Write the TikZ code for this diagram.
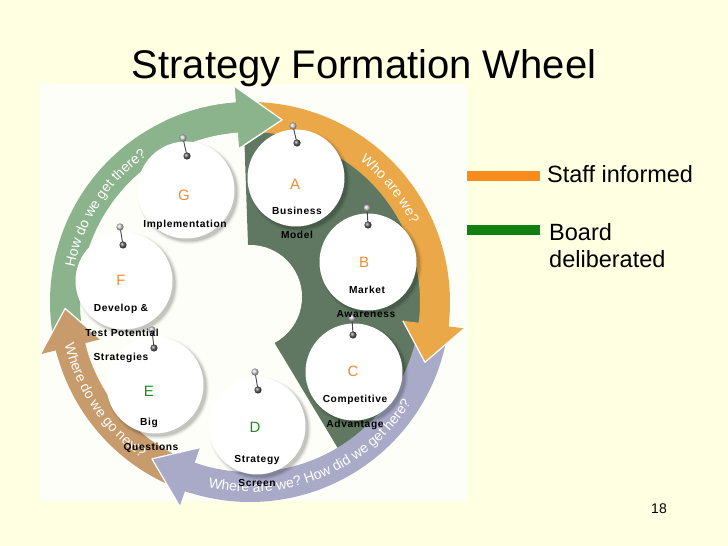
\documentclass[tikz,border=0pt]{standalone}
\usepackage{fontspec}
\setmainfont{Liberation Sans}
\newfontfamily\lblfont[LetterSpace=6]{Liberation Sans}
\usetikzlibrary{decorations.text,calc}
\definecolor{bgcream}{RGB}{255,255,226}
\definecolor{panelc}{RGB}{254,254,249}
\definecolor{ringgreen}{RGB}{140,180,140}
\definecolor{ringorange}{RGB}{235,168,72}
\definecolor{ringgrey}{RGB}{168,170,200}
\definecolor{ringtan}{RGB}{199,155,108}
\definecolor{sectorgreen}{RGB}{96,120,98}
\definecolor{letterorange}{RGB}{240,140,50}
\definecolor{lettergreen}{RGB}{30,140,30}
\definecolor{legendorange}{RGB}{250,140,30}
\definecolor{legendgreen}{RGB}{16,128,16}
\newcommand\RingArrow[4]{%
  \fill[#1] (#2:200pt) arc[start angle=#2, end angle=#3, radius=200pt] -- (#3:216pt) -- (#4:185pt) -- (#3:154pt) -- (#3:170pt) arc[start angle=#3, end angle=#2, radius=170pt] -- cycle;
  \draw[white, line width=1.2pt, line join=round] (#3:216pt) -- (#4:185pt) -- (#3:154pt);
}
\newcommand\ringfont{\fontsize{14}{16}\selectfont}
\tikzset{
  disc/.style={circle, fill=white, minimum size=97pt, inner sep=0pt},
  letO/.style={anchor=base, inner sep=0pt, text=letterorange, font=\fontsize{15}{18}\selectfont},
  letG/.style={anchor=base, inner sep=0pt, text=lettergreen, font=\fontsize{15}{18}\selectfont},
  lbl/.style={anchor=base, inner sep=0pt, font=\lblfont\bfseries\fontsize{10.2}{12}\selectfont},
  pinline/.style={draw=gray!55!black, line width=0.9pt},
  ringtext/.style={decorate, decoration={text along path, text align=center, text color=white, text={|\ringfont|#1}}},
  legtext/.style={anchor=base west, inner sep=0pt, font=\fontsize{23.5}{28}\selectfont}
}
\begin{document}
\begin{tikzpicture}[x=1pt,y=1pt]
\useasboundingbox (0,0) rectangle (728,546);
\fill[bgcream] (0,0) rectangle (728,546);
\fill[panelc] (40,45) rectangle (467,462);
% title
\node[anchor=base, inner sep=0pt, font=\fontsize{40}{48}\selectfont] (title) at (364,467) {Strategy Formation Wheel};
% wheel
\begin{scope}[shift={(250,244)}]
  \fill[sectorgreen] (0,0) -- (92:171pt) arc[start angle=92, end angle=-59, radius=171pt] -- cycle;
  \fill[panelc] (0,5) circle[radius=52];
  \RingArrow{ringgreen}{196}{94}{80}
  \RingArrow{ringtan}{253}{194}{182}
  \RingArrow{ringgrey}{-5}{-109}{-122}
  \RingArrow{ringorange}{94}{-7}{-19}
  \RingArrow{ringgreen}{115}{94}{80}
  \path[ringtext={How do we get there?}] (177:179pt) arc[start angle=177, end angle=117, radius=179pt];
  \path[ringtext={Who are we?}] (64:179pt) arc[start angle=64, end angle=14, radius=179pt];
  \path[ringtext={Where are we? How did we get here?}] (247.6:190pt) arc[start angle=247.6, end angle=337.6, radius=190pt];
  \path[ringtext={Where do we go next?}] (184:190pt) arc[start angle=184, end angle=244, radius=190pt];
\end{scope}
% circle centres
\coordinate (cG) at (186,356);
\coordinate (cA) at (296,368);
\coordinate (cB) at (368,284);
\coordinate (cC) at (354,174);
\coordinate (cD) at (257,120);
\coordinate (cE) at (155,161);
\coordinate (cF) at (124,265);
\foreach \c in {cG,cA,cB,cC,cD,cE,cF}{
  \foreach \d/\o in {4/0.03,3/0.05,2/0.07,1/0.09}
    \fill[black, opacity=\o] ([shift={(3,-3)}]\c) circle[radius={47.5+\d}];
}
\node[disc] (G) at (cG) {};
\node[disc] (A) at (cA) {};
\node[disc] (B) at (cB) {};
\node[disc] (C) at (cC) {};
\node[disc] (D) at (cD) {};
\node[disc] (E) at (cE) {};
\node[disc] (F) at (cF) {};
% pins
\foreach \n/\hx/\hy/\lx/\ly in {G/183/408/187/390, A/293/420/297/403, B/367/338/368/321, C/352/228/353/211, D/255/174/258/156, E/152/216/154/198, F/120/319/123/301}{
  \coordinate (h\n) at (\hx,\hy);
  \coordinate (l\n) at (\lx,\ly);
  \draw[pinline] (h\n) -- (l\n);
  \shade[ball color=gray!35] (h\n) circle[radius=3.6];
  \shade[ball color=gray!75!black] (l\n) circle[radius=3.6];
}
% letters
\node[letO] (tG) at (184,345) {G};
\node[letO] (tA) at (295,356) {A};
\node[letO] (tB) at (364,278) {B};
\node[letO] (tC) at (353,169) {C};
\node[letG] (tD) at (255,113) {D};
\node[letG] (tE) at (149,149) {E};
\node[letO] (tF) at (121,260) {F};
% labels
\node[lbl] (lG1) at (185,318.3) {Implementation};
\node[lbl] (lA1) at (297,331.3) {Business};
\node[lbl] (lA2) at (297,307.3) {Model};
\node[lbl] (lB1) at (367,252.3) {Market};
\node[lbl] (lB2) at (366,228.3) {Awareness};
\node[lbl] (lC1) at (355,143.3) {Competitive};
\node[lbl] (lC2) at (355,118.3) {Advantage};
\node[lbl] (lD1) at (257,83.3) {Strategy};
\node[lbl] (lD2) at (257,59.3) {Screen};
\node[lbl] (lE1) at (149,120.3) {Big};
\node[lbl] (lE2) at (151,95.3) {Questions};
\node[lbl] (lF1) at (121,234.3) {Develop \&};
\node[lbl] (lF2) at (122,209.3) {Test Potential};
\node[lbl] (lF3) at (121,185.3) {Strategies};
% legend
\fill[legendorange] (467,365) rectangle (540,375);
\fill[legendgreen] (467,311) rectangle (540,321);
\node[legtext] (staff) at (547,363) {Staff informed};
\node[legtext] (board) at (549,305) {Board};
\node[legtext] (delib) at (549,278) {deliberated};
\node[anchor=base, inner sep=0pt, font=\fontsize{14}{16}\selectfont] (page) at (659,32) {18};
\end{tikzpicture}
\end{document}
